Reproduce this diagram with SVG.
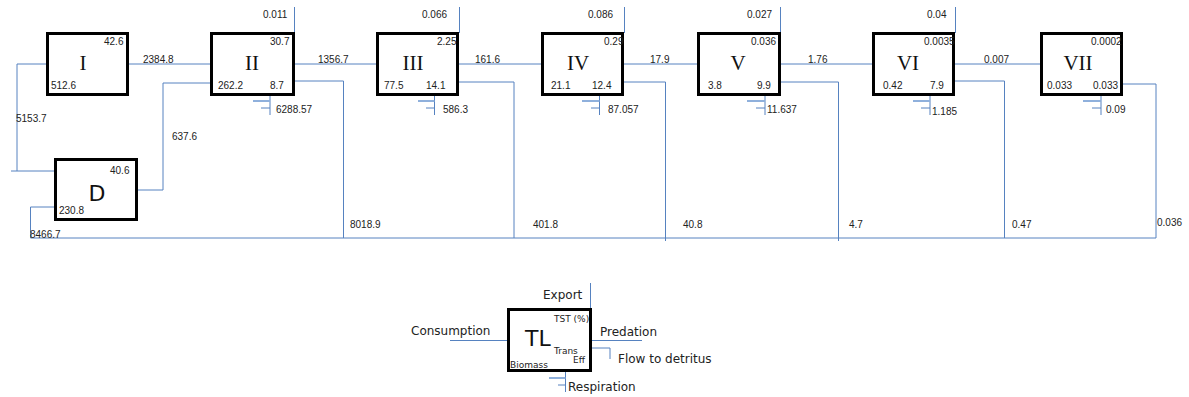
<svg xmlns="http://www.w3.org/2000/svg" width="1189" height="397" viewBox="0 0 1189 397">
<style>
.box{fill:#fff;stroke:#000;stroke-width:3}
.ln{fill:none;stroke:#5682c0;stroke-width:1}
.rs{fill:none;stroke:#8fb0dc;stroke-width:2}
.n{font-family:"Liberation Sans",Arial,sans-serif;font-size:10px;fill:#222}
.rn{font-family:"Liberation Serif","Times New Roman",serif;font-size:21px;fill:#111;text-anchor:middle}
.big{font-family:"DejaVu Sans","Liberation Sans",sans-serif;font-size:22px;fill:#111}
.lg{font-family:"DejaVu Sans","Liberation Sans",sans-serif;font-size:12px;fill:#222}
.ls{font-family:"DejaVu Sans","Liberation Sans",sans-serif;font-size:9px;fill:#222}
</style>
<rect width="1189" height="397" fill="#fff"/>
<g id="connectors">
<!-- flows between levels -->
<path class="ln" d="M129,64H210M295,64H376M459,64H541M624,64H697M781,64H872M955,64H1040"/>
<!-- D to I -->
<path class="ln" d="M54,171H11M17,171V64H46"/>
<!-- D to II -->
<path class="ln" d="M138,190H163V83H210"/>
<!-- D bottom -->
<path class="ln" d="M54,207H30.5V238H1156"/>
<!-- detritus flows -->
<path class="ln" d="M295,81H343.5V238M459,82H514V238M624,82H665.5V241M781,82H838.5V241M955,81H1004.5V238M1123,84H1156V238"/>
<!-- exports -->
<path class="ln" d="M294.5,7V33M459.5,7V33M624.5,7V33M780.5,7V33M955.5,7V33"/>
<!-- respiration -->
<g>
<path class="ln" d="M270,96V115M434.5,96V115M599.5,96V115M765,96V115M930,96V115M1101,96V115"/>
<path class="rs" d="M253,101H270M418,101H434.5M582,101H599.5M747,101H765M913,101H930M1083,101H1101"/>
<path class="ln" d="M261,108H270M426,108H434.5M591,108H599.5M756,108H765M921,108H930M1092,108H1101"/>
</g>
<!-- legend -->
<path class="ln" d="M590.5,283V308M450,340.5H507M592,340.5H642M592,348H610V359M565.5,372V392"/>
<path class="rs" d="M549,378H565.5"/>
<path class="ln" d="M558,385H565.5"/>
</g>
<g id="labels">
<text class="n" x="16" y="122">5153.7</text>
<text class="n" x="143" y="63">2384.8</text>
<text class="n" x="172" y="140">637.6</text>
<text class="n" x="318" y="63">1356.7</text>
<text class="n" x="475" y="63">161.6</text>
<text class="n" x="650" y="63">17.9</text>
<text class="n" x="808" y="63">1.76</text>
<text class="n" x="984" y="63">0.007</text>
<text class="n" x="30" y="238">8466.7</text>
<text class="n" x="350" y="228">8018.9</text>
<text class="n" x="533" y="228">401.8</text>
<text class="n" x="683" y="228">40.8</text>
<text class="n" x="849" y="228">4.7</text>
<text class="n" x="1012" y="228">0.47</text>
<text class="n" x="1157" y="226">0.036</text>
<text class="n" x="263" y="18">0.011</text>
<text class="n" x="422" y="18">0.066</text>
<text class="n" x="588" y="18">0.086</text>
<text class="n" x="747" y="18">0.027</text>
<text class="n" x="927" y="18">0.04</text>
<text class="n" x="276" y="113">6288.57</text>
<text class="n" x="443" y="113">586.3</text>
<text class="n" x="608" y="113">87.057</text>
<text class="n" x="767" y="113">11.637</text>
<text class="n" x="932" y="115">1.185</text>
<text class="n" x="1106" y="113">0.09</text>
</g>
<g id="node-I">
<rect class="box" x="47.5" y="33.5" width="80" height="61"/>
<text class="rn" x="83" y="70">I</text>
<text class="n" x="104" y="45">42.6</text>
<text class="n" x="51" y="89">512.6</text>
</g>
<g id="node-II">
<rect class="box" x="211.5" y="33.5" width="82" height="61"/>
<text class="rn" x="252" y="70">II</text>
<text class="n" x="270" y="45">30.7</text>
<text class="n" x="218" y="89">262.2</text>
<text class="n" x="270" y="89">8.7</text>
</g>
<g id="node-III">
<rect class="box" x="377.5" y="33.5" width="80" height="61"/>
<text class="rn" x="413" y="70">III</text>
<text class="n" x="437" y="45">2.25</text>
<text class="n" x="384" y="89">77.5</text>
<text class="n" x="426" y="89">14.1</text>
</g>
<g id="node-IV">
<rect class="box" x="542.5" y="33.5" width="80" height="61"/>
<text class="rn" x="578" y="70">IV</text>
<text class="n" x="604" y="45">0.29</text>
<text class="n" x="551" y="89">21.1</text>
<text class="n" x="592" y="89">12.4</text>
</g>
<g id="node-V">
<rect class="box" x="698.5" y="33.5" width="81" height="61"/>
<text class="rn" x="738" y="70">V</text>
<text class="n" x="751" y="45">0.036</text>
<text class="n" x="708" y="89">3.8</text>
<text class="n" x="757" y="89">9.9</text>
</g>
<g id="node-VI">
<rect class="box" x="873.5" y="33.5" width="80" height="61"/>
<text class="rn" x="908" y="70">VI</text>
<text class="n" x="924" y="45">0.0035</text>
<text class="n" x="883" y="89">0.42</text>
<text class="n" x="930" y="89">7.9</text>
</g>
<g id="node-VII">
<rect class="box" x="1041.5" y="33.5" width="80" height="61"/>
<text class="rn" x="1078" y="70">VII</text>
<text class="n" x="1091" y="45">0.0002</text>
<text class="n" x="1047" y="89">0.033</text>
<text class="n" x="1093" y="89">0.033</text>
</g>
<g id="node-D">
<rect class="box" x="55.5" y="159.5" width="81" height="60"/>
<text class="big" x="97" y="201" text-anchor="middle">D</text>
<text class="n" x="110" y="174">40.6</text>
<text class="n" x="59" y="214">230.8</text>
</g>
<g id="legend">
<rect class="box" x="508.5" y="309.5" width="82" height="61"/>
<text class="big" x="525" y="346">TL</text>
<text class="ls" x="554" y="322">TST (%)</text>
<text class="ls" x="554" y="354">Trans</text>
<text class="ls" x="573" y="363">Eff</text>
<text class="ls" x="510" y="368">Biomass</text>
<text class="lg" x="543" y="299">Export</text>
<text class="lg" x="411" y="335">Consumption</text>
<text class="lg" x="600" y="336">Predation</text>
<text class="lg" x="618" y="363">Flow to detritus</text>
<text class="lg" x="568" y="391">Respiration</text>
</g>
</svg>
